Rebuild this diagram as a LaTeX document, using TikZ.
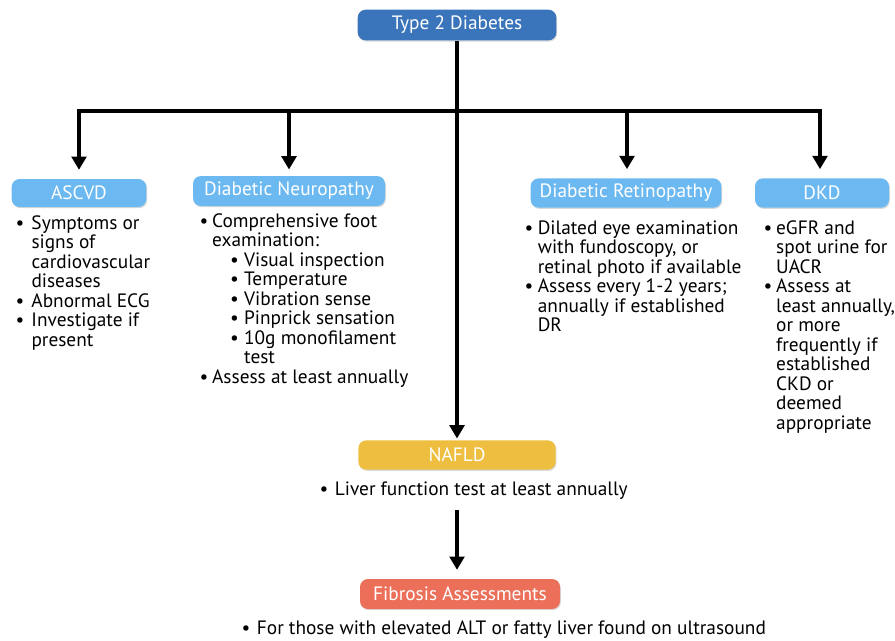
\documentclass[tikz,border=0pt]{standalone}
\usepackage{fontspec}
\setmainfont{PT Sans}
\usetikzlibrary{arrows.meta,shadows}

\definecolor{dmblue}{RGB}{58,116,186}
\definecolor{sublue}{RGB}{108,185,242}
\definecolor{nafyel}{RGB}{237,190,63}
\definecolor{fibred}{RGB}{236,111,89}

\newcommand{\bul}{\textbullet}
\newcommand{\subb}{\hspace*{13.5pt}\makebox[10.5pt][l]{\textbullet}}

\tikzset{every picture/.style={line width=0.75pt}}
\tikzset{
  hdr/.style={rounded corners=6pt, inner sep=0pt, text=white,
    drop shadow={shadow xshift=0.6pt, shadow yshift=-0.9pt, opacity=0.3},
    font=\fontsize{14.5}{14.6}\selectfont},
  lst/.style={inner sep=0pt, anchor=base west, font=\fontsize{14.5}{14.6}\selectfont},
  flow/.style={line width=3pt, -{Triangle[width=11pt,length=10pt]}},
}

\begin{document}
\begin{tikzpicture}[x=0.75pt,y=0.75pt,yscale=-1,xscale=1]
\useasboundingbox (0,0) rectangle (895,640);

% Boxes
\node[hdr, fill=dmblue, minimum width=149pt, minimum height=23pt] (t2d) at (457,25) {Type 2 Diabetes};
\node[hdr, fill=sublue, minimum width=101pt, minimum height=21pt] (ascvd) at (79,193) {ASCVD};
\node[hdr, fill=sublue, minimum width=144pt, minimum height=22.5pt] (neuro) at (289,191) {Diabetic Neuropathy};
\node[hdr, fill=sublue, minimum width=143pt, minimum height=22pt] (retino) at (626,193) {Diabetic Retinopathy};
\node[hdr, fill=sublue, minimum width=100.5pt, minimum height=22pt] (dkd) at (822,193) {DKD};
\node[hdr, fill=nafyel, minimum width=148pt, minimum height=22pt] (nafld) at (457,455) {NAFLD};
\node[hdr, fill=fibred, minimum width=150pt, minimum height=22.5pt] (fib) at (460,594) {Fibrosis Assessments};

% Text Node
\node[lst] (ascvdtxt) at (15,229) {\begin{tabular}[t]{@{}p{12pt}@{}l@{}}
\bul & Symptoms or\\ & signs of\\ & cardiovascular\\ & diseases\\
\bul & Abnormal ECG\\ \bul & Investigate if\\ & present
\end{tabular}};
% Text Node
\node[lst] (neurotxt) at (199,227) {\begin{tabular}[t]{@{}p{9.5pt}@{}l@{}}
\bul & Comprehensive foot\\ & examination:\\
 & \subb Visual inspection\\ & \subb Temperature\\ & \subb Vibration sense\\
 & \subb Pinprick sensation\\ & \subb 10g monofilament\\ & \hspace*{24pt}test\\
\bul & Assess at least annually
\end{tabular}};
% Text Node
\node[lst] (retinotxt) at (524,234) {\begin{tabular}[t]{@{}p{10pt}@{}l@{}}
\bul & Dilated eye examination\\ & with fundoscopy, or\\ & retinal photo if available\\
\bul & Assess every 1-2 years;\\ & annually if established\\ & DR
\end{tabular}};
% Text Node
\node[lst] (dkdtxt) at (763,234) {\begin{tabular}[t]{@{}p{9.5pt}@{}l@{}}
\bul & eGFR and\\ & spot urine for\\ & UACR\\
\bul & Assess at\\ & least annually,\\ & or more\\ & frequently if\\ & established\\
 & CKD or\\ & deemed\\ & appropriate
\end{tabular}};
% Text Node
\node[lst] (nafldtxt) at (319,495) {\bul\hspace{5pt}Liver function test at least annually};
% Text Node
\node[lst] (fibtxt) at (241,634) {\bul\hspace{5pt}For those with elevated ALT or fatty liver found on ultrasound};

% Straight Lines
\coordinate (jA) at (79,111);
\coordinate (jB) at (289,111);
\coordinate (jC) at (627,111);
\coordinate (jD) at (820,111);
\draw[line width=3pt, line cap=rect] (jA) -- (jD);
\draw[flow, shorten >=1pt] (t2d.south) -- (nafld.north);
\draw[flow, shorten >=6.5pt] (jA) -- (ascvd.north);
\draw[flow, shorten >=4.5pt] (jB) -- (neuro.north);
\draw[flow, shorten >=6.5pt] (jC) -- (jC |- retino.north);
\draw[flow, shorten >=6.5pt] (jD) -- (jD |- dkd.north);
\draw[flow, shorten <=8pt, shorten >=6.5pt] (nafldtxt.south -| nafld.south) -- (fib.north -| nafld.south);

\end{tikzpicture}
\end{document}
